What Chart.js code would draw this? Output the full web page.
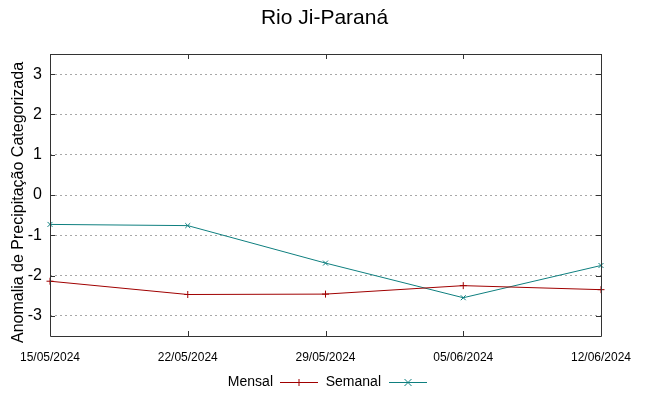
<!DOCTYPE html>
<html>
<head>
<meta charset="utf-8">
<script src="https://cdn.jsdelivr.net/npm/chart.js@4"></script>
<style>
  html, body { margin: 0; padding: 0; background: #ffffff; }
  #wrap { width: 649px; height: 396px; position: relative; }
</style>
</head>
<body>
<div id="wrap"><canvas id="c" width="649" height="396"></canvas></div>
<script>
const chartTitle = "Rio Ji-Paraná";
const yAxisTitle = "Anomalia de Precipitação Categorizada";
const categories = ["15/05/2024", "22/05/2024", "29/05/2024", "05/06/2024", "12/06/2024"];
const seriesNames = ["Mensal", "Semanal"];
const mensalValues = [-2.14, -2.47, -2.46, -2.25, -2.35];
const semanalValues = [-0.73, -0.76, -1.69, -2.55, -1.75];
const yTickValues = [-3, -2, -1, 0, 1, 2, 3];
const yMin = -3.5;
const yMax = 3.5;

const colMensal = "#a00000";
const colSemanal = "#0e7f7f";
const FONT = "'Liberation Sans', Arial, sans-serif";

const framePlugin = {
  id: "frame",
  afterDatasetsDraw(chart) {
    const ctx = chart.ctx;
    const a = chart.chartArea;
    const xs = chart.scales.x, ys = chart.scales.y;
    const tl = 5;
    ctx.save();
    ctx.strokeStyle = "#333333";
    ctx.lineWidth = 1;
    ctx.beginPath();
    ctx.rect(Math.round(a.left) + 0.5, Math.round(a.top) + 0.5,
             Math.round(a.right - a.left), Math.round(a.bottom - a.top));
    ctx.stroke();
    ctx.beginPath();
    xs.ticks.forEach((t, i) => {
      const x = Math.round(xs.getPixelForTick(i)) + 0.5;
      ctx.moveTo(x, a.bottom); ctx.lineTo(x, a.bottom - tl);
      ctx.moveTo(x, a.top); ctx.lineTo(x, a.top + tl);
    });
    ys.ticks.forEach(t => {
      const y = Math.round(ys.getPixelForValue(t.value)) + 0.5;
      ctx.moveTo(a.left, y); ctx.lineTo(a.left + tl, y);
      ctx.moveTo(a.right, y); ctx.lineTo(a.right - tl, y);
    });
    ctx.stroke();
    ctx.restore();
  },
  afterDraw(chart) {
    const ctx = chart.ctx;
    // y-axis title (rotated)
    ctx.save();
    ctx.translate(18.5, 202.5);
    ctx.rotate(-Math.PI / 2);
    ctx.font = "16px " + FONT;
    ctx.fillStyle = "#000000";
    ctx.textAlign = "center";
    ctx.textBaseline = "middle";
    ctx.fillText(yAxisTitle, 0, 0);
    ctx.restore();

    // gnuplot-style legend: text, then line sample with marker
    const items = [
      { name: seriesNames[0], color: colMensal, textRight: 273, x0: 280, x1: 318, mark: "plus" },
      { name: seriesNames[1], color: colSemanal, textRight: 381, x0: 389, x1: 427, mark: "x" }
    ];
    const y = 382.5;
    ctx.save();
    ctx.font = "14px " + FONT;
    ctx.textAlign = "right";
    ctx.textBaseline = "middle";
    items.forEach(it => {
      ctx.fillStyle = "#000000";
      ctx.fillText(it.name, it.textRight, y);
      ctx.strokeStyle = it.color;
      ctx.lineWidth = 1;
      ctx.beginPath();
      ctx.moveTo(it.x0, y); ctx.lineTo(it.x1, y);
      const cx = (it.x0 + it.x1) / 2, r = 3.5;
      if (it.mark === "plus") {
        ctx.moveTo(cx, y - r); ctx.lineTo(cx, y + r);
      } else {
        ctx.moveTo(cx - r, y - r); ctx.lineTo(cx + r, y + r);
        ctx.moveTo(cx - r, y + r); ctx.lineTo(cx + r, y - r);
      }
      ctx.stroke();
    });
    ctx.restore();
  }
};

new Chart(document.getElementById("c"), {
  type: "line",
  data: {
    labels: categories,
    datasets: [
      {
        label: seriesNames[0],
        data: mensalValues,
        borderColor: colMensal,
        backgroundColor: colMensal,
        borderWidth: 1,
        pointStyle: "cross",
        pointRadius: 3.5,
        pointBorderWidth: 1,
        tension: 0,
        fill: false
      },
      {
        label: seriesNames[1],
        data: semanalValues,
        borderColor: colSemanal,
        backgroundColor: colSemanal,
        borderWidth: 1,
        pointStyle: "crossRot",
        pointRadius: 3.5,
        pointBorderWidth: 1,
        tension: 0,
        fill: false
      }
    ]
  },
  options: {
    responsive: false,
    animation: false,
    devicePixelRatio: 1,
    layout: { padding: 0 },
    plugins: {
      legend: { display: false },
      tooltip: { enabled: false },
      title: {
        display: true,
        text: chartTitle,
        color: "#000000",
        font: { family: FONT, size: 21, weight: "normal" },
        padding: { top: 6, bottom: 22.8 }
      }
    },
    scales: {
      x: {
        type: "category",
        offset: false,
        grid: { display: false, drawTicks: false },
        border: { display: false },
        ticks: {
          color: "#000000",
          font: { family: FONT, size: 12 },
          padding: 14,
          maxRotation: 0,
          autoSkip: false
        },
        afterFit(scale) { scale.height = 60; }
      },
      y: {
        type: "linear",
        min: yMin,
        max: yMax,
        grid: {
          color: "#a8a8a8",
          lineWidth: 1,
          drawTicks: false
        },
        border: { display: false, dash: [2, 3] },
        ticks: {
          color: "#000000",
          font: { family: FONT, size: 16 },
          padding: 8,
          callback: v => String(v)
        },
        afterBuildTicks(scale) {
          scale.ticks = yTickValues.map(v => ({ value: v }));
        },
        afterFit(scale) { scale.width = 50; }
      },
      yRight: {
        type: "linear",
        position: "right",
        min: yMin,
        max: yMax,
        grid: { display: false, drawTicks: false },
        border: { display: false },
        ticks: { display: false },
        afterFit(scale) { scale.width = 48; }
      }
    }
  },
  plugins: [framePlugin]
});
</script>
</body>
</html>
